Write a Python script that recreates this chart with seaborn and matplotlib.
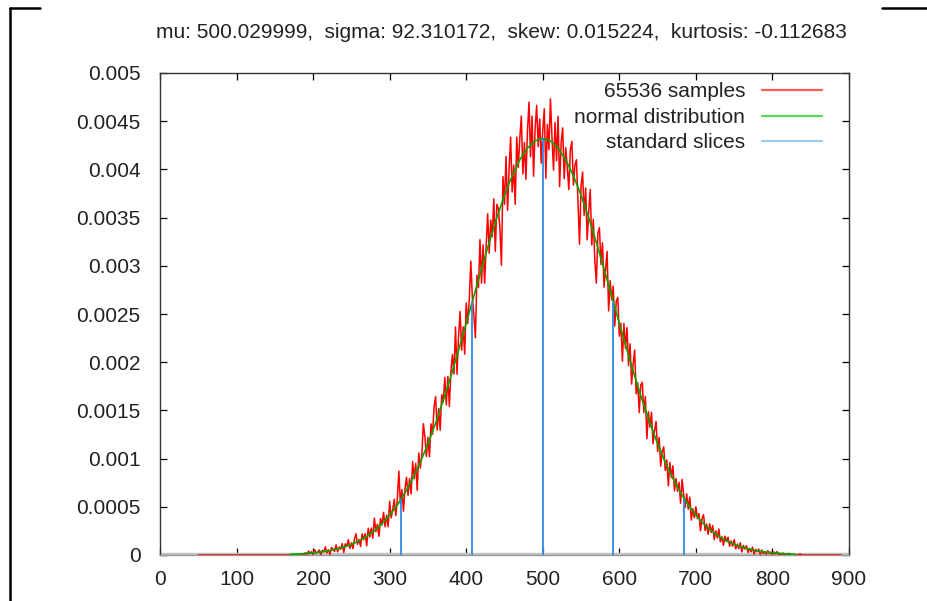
import numpy as np
import pandas as pd
import matplotlib
matplotlib.use("Agg")
import matplotlib.pyplot as plt
from matplotlib.lines import Line2D
import seaborn as sns

# Summary statistics of the sample set
mu = 500.029999
sigma = 92.310172
skew = 0.015224
kurtosis = -0.112683

# Histogram of the 65536 samples (density in units of 1e-6), bins every 2 units
sample_x = np.arange(50, 891, 2)
sample_density_e6 = [
    # 50 .. 188
    0, 0, 0, 0, 0, 0, 0, 0, 0, 0, 0, 0, 0, 0, 0, 0, 0, 0, 0, 0,
    0, 0, 0, 0, 0, 0, 0, 0, 0, 0, 0, 0, 0, 0, 0, 0, 0, 0, 0, 0,
    0, 0, 0, 0, 0, 0, 0, 0, 0, 0, 0, 0, 0, 0, 0, 0, 0, 0, 0, 0,
    0, 0, 0, 0, 0, 0, 0, 0, 0, 0,
    # 190 .. 500
    24, 3, 41, 14, 35, 2, 56, 15, 31, 52,
    2, 49, 31, 84, 21, 53, 6, 78, 62, 36,
    105, 33, 84, 59, 118, 26, 116, 88, 160, 68,
    126, 66, 163, 220, 111, 161, 88, 220, 159, 221,
    96, 278, 187, 280, 174, 383, 241, 319, 194, 378,
    311, 442, 292, 414, 293, 556, 385, 471, 577, 410,
    582, 870, 531, 679, 454, 686, 805, 619, 794, 633,
    969, 791, 949, 671, 1058, 902, 1035, 1362, 1228, 1023,
    1220, 1020, 1360, 1252, 1537, 1643, 1297, 1520, 1295, 1663,
    1588, 1843, 1557, 1852, 1540, 1907, 2080, 1877, 2366, 1875,
    2269, 2526, 2124, 2366, 2083, 2614, 2402, 2654, 3048, 2670,
    2485, 2254, 2903, 2774, 3271, 2820, 3217, 2819, 3200, 3540,
    3131, 3474, 3302, 3695, 3151, 3637, 3594, 3385, 3006, 3925,
    3637, 4134, 3576, 4003, 4335, 3764, 4045, 3636, 4336, 4020,
    4325, 4554, 3953, 4279, 3898, 4399, 4698, 4131, 4553, 3929,
    4425, 4664, 4236, 4523, 4065,
    4399,
    # 502 .. 822
    4629, 3908, 4467, 4204, 4732, 4337, 3992, 4487, 4089, 4551,
    3822, 4279, 4431, 3903, 4225, 4020, 3791, 4203, 4291, 3837,
    4043, 4100, 3648, 3224, 3827, 3972, 3524, 3806, 3269, 3568,
    3792, 3217, 3482, 3049, 2820, 3342, 3396, 3014, 3239, 2778,
    2955, 3149, 2532, 2846, 2647, 2790, 2375, 2634, 2672, 2270,
    2404, 2011, 2401, 2144, 2359, 1964, 2191, 1773, 1978, 2126,
    1672, 1787, 1477, 1764, 1791, 1478, 1643, 1207, 1487, 1326,
    1480, 1154, 1292, 1384, 1074, 1220, 922, 1074, 1121, 877,
    986, 717, 961, 803, 925, 665, 794, 660, 754, 537,
    785, 631, 493, 634, 475, 601, 362, 479, 387, 500,
    378, 430, 252, 378, 419, 253, 321, 215, 324, 234,
    306, 159, 251, 177, 270, 136, 189, 100, 196, 138,
    185, 90, 146, 92, 159, 64, 113, 66, 127, 32,
    98, 62, 97, 26, 69, 33, 81, 8, 59, 33,
    61, 6, 52, 13, 35, 6, 45, 13, 32, 0,
    32, 10, 35, 1, 20, 1, 20, 1, 16, 2,
    17,
    # 824 .. 890
    0, 0, 8, 0, 0, 0, 12,
    0, 0, 0, 0, 0, 0, 0, 0, 0, 0, 0, 0, 0, 0, 0, 0, 0, 0, 0, 0,
    0, 0, 0, 0, 0, 0, 0,
]

# Normal density for the same mu / sigma (units of 1e-6), every 10 units
normal_x = np.arange(170, 831, 10)
normal_density_e6 = [
    7.2, 10.6, 15.4, 22.0, 31.1, 43.4, 59.9, 81.9, 110.4, 147.2,
    193.9, 252.5, 324.9, 413.4, 520.0, 645.7, 793.1, 962.3, 1154.0, 1368.5,
    1603.5, 1856.7, 2124.6, 2403.6, 2687.0, 2968.9, 3242.0, 3499.1, 3732.4, 3934.7,
    4099.8, 4221.8, 4296.6, 4322.0, 4296.6, 4221.8, 4099.8, 3934.7, 3732.4, 3499.1,
    3242.0, 2968.9, 2687.0, 2403.6, 2124.6, 1856.7, 1603.5, 1368.5, 1154.0, 962.3,
    793.1, 645.7, 520.0, 413.4, 324.9, 252.5, 193.9, 147.2, 110.4, 81.9,
    59.9, 43.4, 31.1, 22.0, 15.4, 10.6, 7.2,
]

# Standard slices at mu + k*sigma, drawn up to the normal curve
slice_k = [-2, -1, 0, 1, 2]
slice_height_e6 = [585, 2621, 4322, 2621, 585]

x_ticks = [0, 100, 200, 300, 400, 500, 600, 700, 800, 900]
y_ticks = [0, 0.0005, 0.001, 0.0015, 0.002, 0.0025, 0.003, 0.0035, 0.004, 0.0045, 0.005]
y_tick_labels = ["0", "0.0005", "0.001", "0.0015", "0.002", "0.0025",
                 "0.003", "0.0035", "0.004", "0.0045", "0.005"]
legend_labels = ["65536 samples", "normal distribution", "standard slices"]

samples = pd.DataFrame({"x": sample_x, "density": np.array(sample_density_e6) * 1e-6})
normal = pd.DataFrame({"x": normal_x, "density": np.array(normal_density_e6) * 1e-6})
slice_x = mu + sigma * np.array(slice_k)
slice_h = np.array(slice_height_e6) * 1e-6

sns.set_style("ticks")
plt.rcParams["font.family"] = ["Liberation Sans", "DejaVu Sans"]
FS = 15

W, H = 928, 601
fig = plt.figure(figsize=(W / 100, H / 100), dpi=100)
fig.patch.set_facecolor("white")
ax = fig.add_axes([160 / W, 1 - 555 / H, (849 - 160) / W, (555 - 73) / H])
ax.set_facecolor("white")

# zero axis in light grey
ax.axhline(0, color="#c4c4c4", lw=3.2, zorder=1)

sns.lineplot(data=samples, x="x", y="density", ax=ax, color="#ff0000",
             lw=1.1, zorder=3, estimator=None, legend=False)
sns.lineplot(data=normal, x="x", y="density", ax=ax, color="#00a800",
             lw=1.2, zorder=4, estimator=None, legend=False)
ax.vlines(slice_x, 0, slice_h, color="#2b8be6", lw=1.3, zorder=5)

ax.set_xlim(0, 900)
ax.set_ylim(0, 0.005)
ax.set_xticks(x_ticks)
ax.set_xticklabels([str(v) for v in x_ticks])
ax.set_yticks(y_ticks)
ax.set_yticklabels(y_tick_labels)
ax.set_xlabel("")
ax.set_ylabel("")
ax.tick_params(direction="in", top=True, right=True, length=5, width=0.9,
               color="black", labelsize=FS, labelcolor="#222222")
ax.tick_params(axis="x", pad=11)
ax.tick_params(axis="y", pad=14)
for side in ["left", "right", "top"]:
    ax.spines[side].set_color("#333333")
    ax.spines[side].set_linewidth(1.0)
ax.spines["bottom"].set_color("#999999")
ax.spines["bottom"].set_linewidth(1.0)

handles = [Line2D([], [], color="#ff5a5a", lw=1.6),
           Line2D([], [], color="#5ad25a", lw=1.6),
           Line2D([], [], color="#9ccaf5", lw=1.6)]
leg = ax.legend(handles, legend_labels, loc="upper right",
                bbox_to_anchor=(0.961, 0.981), frameon=False, markerfirst=False,
                handlelength=2.9, handletextpad=0.8, labelspacing=0.32,
                fontsize=FS, borderaxespad=0.0, borderpad=0.0)
for t in leg.get_texts():
    t.set_color("#222222")

fig.text(501 / W, 1 - 33 / H,
         f"mu: {mu:.6f},  sigma: {sigma:.6f},  skew: {skew:.6f},  kurtosis: {kurtosis:.6f}",
         ha="center", va="center", fontsize=FS, color="#222222")

# outer frame edges
fig.add_artist(Line2D([10 / W, 10 / W], [0, 1 - 8 / H], color="black", lw=1.8))
fig.add_artist(Line2D([10 / W, 40 / W], [1 - 8 / H, 1 - 8 / H], color="black", lw=1.8))
fig.add_artist(Line2D([882 / W, 1], [1 - 8 / H, 1 - 8 / H], color="black", lw=1.8))

fig.savefig("out.png", dpi=100)
